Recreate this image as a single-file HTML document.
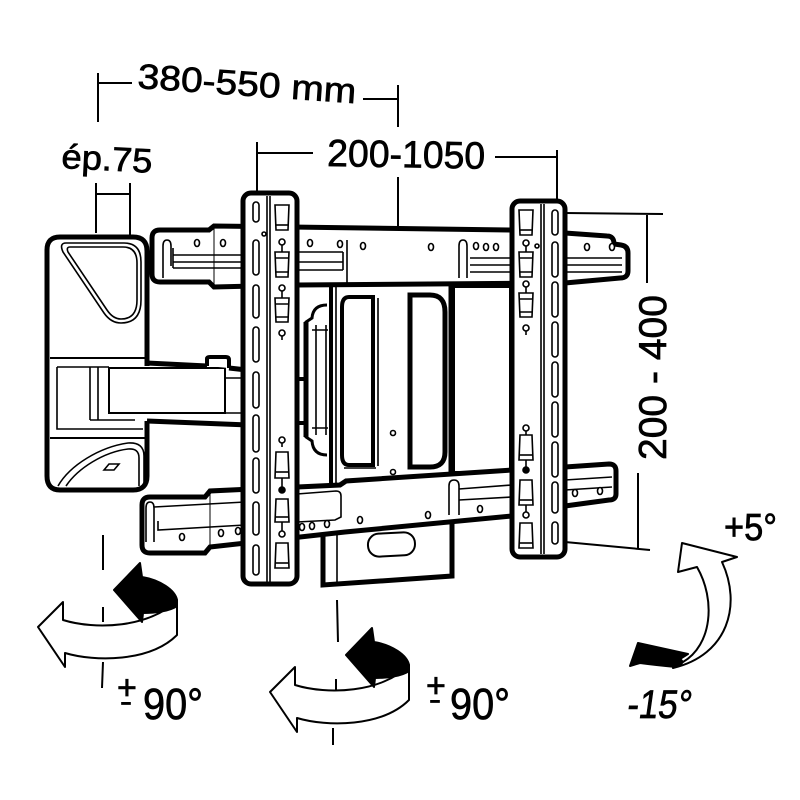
<!DOCTYPE html>
<html><head><meta charset="utf-8"><style>
html,body{margin:0;padding:0;background:#fff;}
svg{display:block;}
text{font-family:"Liberation Sans",sans-serif;fill:#000;stroke:#000;stroke-width:0.7;}
</style></head><body>
<svg width="800" height="800" viewBox="0 0 800 800" xmlns="http://www.w3.org/2000/svg">
<rect width="800" height="800" fill="#fff"/>

<!-- dimension lines -->
<g stroke="#000" stroke-width="2" fill="none">
  <path d="M98,73 V122 M98,83 H132"/>
  <path d="M363,99 H398 M398,85 V127"/>
  <path d="M96,183 V233 M130,183 V272 M96,194 H130"/>
  <path d="M257,142 V205 M257,153 H313"/>
  <path d="M495,157 H557 M557,150 V210"/>
  <path d="M398,177 V265"/>
  <path d="M565,213 L663,214 M647,215 V283"/>
  <path d="M638,473 V548 M565,542 L650,550"/>
</g>

<!-- texts -->
<text x="137" y="88" font-size="35" textLength="219" lengthAdjust="spacingAndGlyphs" transform="rotate(4 137 88)">380-550 mm</text>
<text x="61" y="168" font-size="34" textLength="91" lengthAdjust="spacingAndGlyphs" transform="rotate(3 61 168)">ép.75</text>
<text x="327" y="166" font-size="38" textLength="158" lengthAdjust="spacingAndGlyphs" transform="rotate(1 327 166)">200-1050</text>
<text x="0" y="0" font-size="39" textLength="165" lengthAdjust="spacingAndGlyphs" transform="translate(666 460) rotate(-90)">200 - 400</text>
<text x="117" y="699" font-size="34">+</text>
<text x="120" y="711" font-size="28" textLength="12" lengthAdjust="spacingAndGlyphs">-</text>
<text x="143" y="719" font-size="44" textLength="60" lengthAdjust="spacingAndGlyphs">90°</text>
<text x="426" y="697" font-size="34">+</text>
<text x="429" y="709" font-size="28" textLength="12" lengthAdjust="spacingAndGlyphs">-</text>
<text x="450" y="719" font-size="44" textLength="60" lengthAdjust="spacingAndGlyphs">90°</text>
<text x="724" y="540" font-size="38" textLength="53" lengthAdjust="spacingAndGlyphs">+5°</text>
<text x="0" y="0" font-size="40" textLength="64" lengthAdjust="spacingAndGlyphs" transform="translate(626 718) skewX(-8)">-15°</text>

<!-- wall plate -->
<path d="M60,237 H133 Q147,237 147,251 V476 Q147,490 133,490 H60 Q47,490 47,476 V250 Q47,237 60,237 Z" fill="#fff" stroke="#000" stroke-width="5"/>
<g stroke="#000" fill="none" stroke-width="1.6">
  <path d="M66,243 H124 Q141,243 141,262 V300 Q141,323 121,323 Q111,323 104,313 L63,252 Q59,243 66,243 Z"/>
  <path d="M70,247 H123 Q137,247 137,263 V300 Q137,319 121,319 Q113,319 107,310 L68,252 Q66,247 70,247 Z"/>
  <path d="M58,486 C70,465 100,447 128,443 Q144,442 144,456 V486"/>
  <path d="M66,486 C78,468 104,452 128,449 Q139,448 139,458 V486"/>
  <path d="M104,470 L109,464 H119 L114,470 Z"/>
  <path d="M50,358 H146" stroke-width="2"/>
  <path d="M50,438 H146" stroke-width="2"/>
  <path d="M57,367 V429 H143"/>
  <path d="M90,367 V420 M98,367 V420 M90,420 H135 M57,367 H109"/>
</g>
<!-- arm -->
<rect x="141" y="366" width="104" height="55" fill="#fff"/>
<rect x="109" y="368" width="116" height="45" fill="#fff" stroke="#000" stroke-width="2"/>
<g stroke="#000" fill="none">
  <path d="M147,363 L207,366 M229,368 L300,376" stroke-width="5"/>
  <path d="M207,366 V359 Q207,357 210,357 H226 Q229,357 229,360 V368" stroke-width="4" fill="#fff"/>
  <path d="M147,421 L300,427" stroke-width="5"/>
  <path d="M225,378 H245 M225,413 H245" stroke-width="1.6"/>
</g>

<!-- bottom box -->
<path d="M323,520 V585 L452,576 V515" fill="#fff" stroke="#000" stroke-width="5"/>
<path d="M337,528 V583" stroke="#000" stroke-width="1.6"/>
<rect x="368" y="533" width="47" height="23" rx="11" fill="#fff" stroke="#000" stroke-width="2" transform="rotate(-3 391 545)"/>

<!-- central body -->
<path d="M296,282 H513 V486 L296,489 Z" fill="#fff"/>
<g stroke="#000" fill="none">
  <path d="M296,282 V380 M296,422 V489 L513,484 V282 H296" stroke-width="5"/>
  <path d="M293,379 H307 M293,423 H307" stroke-width="4"/>
  <path d="M331,283 V487" stroke-width="4"/>
  <path d="M336,283 V486" stroke-width="1.6"/>
  <path d="M450,283 V482" stroke-width="3"/>
  <rect x="453" y="286" width="58" height="187" stroke-width="4"/>
  <path d="M349,297 H373 V465 H349 Q342,465 342,455 V307 Q342,297 349,297 Z" stroke-width="4"/>
  <path d="M378,298 V466 M344,468 H376" stroke-width="1.6"/>
  <path d="M410,295 H430 Q445,295 445,312 V452 Q445,467 430,467 H410 Z" stroke-width="5"/>
  <path d="M327,305 Q313,305 312,318 L306,322 V437 L312,441 Q313,455 327,455" stroke-width="3"/>
  <path d="M306,322 V437" stroke-width="5"/>
  <path d="M316,325 V435 M326,325 V435 M312,330 H328 M312,428 H328" stroke-width="1.6"/>
  <circle cx="393" cy="433" r="2.5" stroke-width="1.6"/>
  <circle cx="393" cy="472" r="2.5" stroke-width="1.6"/>
</g>

<!-- top rail -->
<path d="M160,230 H209 L214,226 L510,230 L565,233 L607,236 Q614,236 614,244 L621,245 Q628,246 628,253 V271 Q628,278 620,278 L565,283 L297,285 L214,287 L209,282 H160 Q152,282 152,274 V238 Q152,230 160,230 Z" fill="#fff" stroke="#000" stroke-width="5"/>
<g stroke="#000" fill="none" stroke-width="1.6">
  <path d="M163,278 V246 Q163,240 167,240 Q171,240 171,246 V266"/>
  <path d="M173,248 V268 M173,255 H245 M173,262 H245 M173,268 H245"/>
  <path d="M297,252 H343 M297,262 H343 M297,270 H343 M343,252 V270 M347,240 V283"/>
  <path d="M459,278 V246 Q459,240 463,240 Q467,240 467,246 V278"/>
  <path d="M470,258 H512 M470,265 H512 M470,272 H512"/>
  <path d="M565,258 H622 M565,265 H622 M565,272 H622"/>
  <path d="M214,228 V286" stroke-width="1"/>
</g>
<g fill="#fff" stroke="#000" stroke-width="1.6">
  <ellipse cx="197" cy="243" rx="2.5" ry="3.5"/><ellipse cx="223" cy="243" rx="2.5" ry="3.5"/>
  <ellipse cx="310" cy="243" rx="2.5" ry="3.5"/><ellipse cx="340" cy="244" rx="2.5" ry="3.5"/>
  <ellipse cx="363" cy="246" rx="2.5" ry="3.5"/><ellipse cx="431" cy="247" rx="2.5" ry="3.5"/>
  <ellipse cx="476" cy="246" rx="2.5" ry="3.5"/><ellipse cx="486" cy="247" rx="2.5" ry="3.5"/>
  <ellipse cx="496" cy="247" rx="2.5" ry="3.5"/>
  <ellipse cx="587" cy="247" rx="2.5" ry="3.5"/><ellipse cx="612" cy="247" rx="2.5" ry="3.5"/>
</g>

<!-- bottom rail -->
<path d="M150,497 H205 L210,491 L340,485 L346,481 L512,470 L565,467 L609,464 Q616,464 616,471 V494 Q616,500 609,500 L565,506 L512,516 L345,532 L210,547 L205,553 H150 Q142,553 142,545 V505 Q142,497 150,497 Z" fill="#fff" stroke="#000" stroke-width="5"/>
<g stroke="#000" fill="none" stroke-width="1.6">
  <path d="M146,542 V508 Q146,502 150,502 Q154,502 154,508 V542"/>
  <path d="M154,507 L245,502 M158,521 V530 L245,525"/>
  <path d="M297,494 L336,491 Q341,491 341,496 V517 L335,520 L297,522"/>
  <path d="M449,515 V486 Q449,480 454,480 Q459,480 459,486 V515"/>
  <path d="M459,489 L512,485 M459,500 L512,497"/>
  <path d="M565,480 L612,477 M565,490 L612,487"/>
  <path d="M210,492 V547" stroke-width="1"/>
</g>
<g fill="#fff" stroke="#000" stroke-width="1.6">
  <ellipse cx="182" cy="537" rx="2.5" ry="3.5"/><ellipse cx="221" cy="533" rx="2.5" ry="3.5"/>
  <ellipse cx="238" cy="531" rx="2.5" ry="3.5"/>
  <ellipse cx="302" cy="527" rx="2.5" ry="3.5"/><ellipse cx="312" cy="526" rx="2.5" ry="3.5"/>
  <ellipse cx="327" cy="524" rx="2.5" ry="3.5"/>
  <ellipse cx="360" cy="520" rx="2.5" ry="3.5"/><ellipse cx="428" cy="515" rx="2.5" ry="3.5"/>
  <ellipse cx="480" cy="509" rx="2.5" ry="3.5"/>
  <ellipse cx="575" cy="493" rx="2.5" ry="3.5"/><ellipse cx="600" cy="491" rx="2.5" ry="3.5"/>
</g>

<!-- left strip -->
<rect x="243" y="193" width="54" height="391" rx="8" fill="#fff" stroke="#000" stroke-width="5"/>
<g stroke="#000" fill="none" stroke-width="1.6">
  <path d="M267,196 V582 M270,196 V582"/>
  <rect x="253" y="202" width="6" height="20" rx="3"/>
  <rect x="253" y="240" width="6" height="35" rx="3"/>
  <rect x="253" y="285" width="6" height="33" rx="3"/>
  <rect x="253" y="327" width="6" height="35" rx="3"/>
  <rect x="253" y="372" width="6" height="36" rx="3"/>
  <rect x="253" y="415" width="6" height="37" rx="3"/>
  <rect x="253" y="458" width="6" height="35" rx="3"/>
  <rect x="253" y="502" width="6" height="33" rx="3"/>
  <rect x="253" y="545" width="6" height="30" rx="3"/>
</g>
<!-- right strip -->
<rect x="512" y="201" width="53" height="356" rx="8" fill="#fff" stroke="#000" stroke-width="5"/>
<g stroke="#000" fill="none" stroke-width="1.6">
  <path d="M541,204 V554 M544,204 V554"/>
  <rect x="552" y="210" width="6" height="25" rx="3"/>
  <rect x="552" y="242" width="6" height="35" rx="3"/>
  <rect x="552" y="282" width="6" height="35" rx="3"/>
  <rect x="552" y="322" width="6" height="35" rx="3"/>
  <rect x="552" y="362" width="6" height="35" rx="3"/>
  <rect x="552" y="402" width="6" height="35" rx="3"/>
  <rect x="552" y="442" width="6" height="35" rx="3"/>
  <rect x="552" y="482" width="6" height="31" rx="3"/>
  <rect x="552" y="522" width="6" height="22" rx="3"/>
</g>

<!-- cups & keyholes -->
<g stroke="#000" fill="#fff" stroke-width="1.6">
  <path d="M275,205 H289 L288,230 H276 Z"/><path d="M276,225 H288"/>
  <path d="M275,252 H289 L288,277 H276 Z"/><path d="M276,272 H288 M275,258 H289"/>
  <path d="M275,298 H289 L288,322 H276 Z"/><path d="M276,317 H288 M275,304 H289"/>
  <circle cx="282" cy="242" r="3"/><path d="M282,245 V252"/>
  <circle cx="282" cy="288" r="3"/><path d="M282,291 V298"/>
  <circle cx="282" cy="333" r="3"/><path d="M282,336 V340"/>
  <circle cx="282" cy="440" r="3"/><path d="M282,443 V447"/>
  <path d="M276,452 H288 L289,478 H275 Z"/><path d="M275,472 H289"/>
  <circle cx="282" cy="490" r="3" fill="#000"/><path d="M282,478 V487"/>
  <path d="M276,499 H288 L289,522 H275 Z"/><path d="M275,517 H289"/>
  <circle cx="282" cy="534" r="3"/><path d="M282,522 V531"/>
  <path d="M276,543 H288 L289,568 H275 Z"/><path d="M275,563 H289"/>
  <circle cx="264" cy="234" r="2"/>
  <path d="M519,210 H533 L532,235 H520 Z"/><path d="M520,230 H532"/>
  <path d="M519,252 H533 L532,277 H520 Z"/><path d="M520,272 H532 M519,258 H533"/>
  <path d="M519,293 H533 L532,317 H520 Z"/><path d="M520,312 H532 M519,299 H533"/>
  <circle cx="526" cy="243" r="3"/><path d="M526,246 V252"/>
  <circle cx="526" cy="284" r="3"/><path d="M526,287 V293"/>
  <circle cx="526" cy="328" r="3"/><path d="M526,331 V335"/>
  <circle cx="526" cy="428" r="3"/><path d="M526,431 V435"/>
  <path d="M520,435 H532 L533,460 H519 Z"/><path d="M519,455 H533"/>
  <circle cx="526" cy="470" r="3" fill="#000"/><path d="M526,460 V467"/>
  <path d="M520,480 H532 L533,505 H519 Z"/><path d="M519,500 H533"/>
  <circle cx="526" cy="515" r="3"/><path d="M526,505 V512"/>
  <path d="M520,523 H532 L533,548 H519 Z"/><path d="M519,543 H533"/>
  <circle cx="537" cy="246" r="2"/>
</g>

<!-- rotation arrow 1 -->
<g stroke="#000" stroke-width="2" stroke-linejoin="round">
  <path d="M103,535 V570 M103,607 V622 M103,662 L102,688" fill="none"/>
  <path d="M38,627 L63,602 L63,620 C95,630 150,628 177,600 L177,635 C150,662 95,662 65,653 L65,667 Z" fill="#fff"/>
  <path d="M140,563 L114,590 L142,622 L143,613 C155,613 170,611 177,606 L177,600 C175,590 160,580 142,577 Z" fill="#000"/>
</g>
<!-- rotation arrow 2 -->
<g stroke="#000" stroke-width="2" stroke-linejoin="round">
  <path d="M337,600 L338,642 M336,679 V690 M333,728 V745" fill="none"/>
  <g transform="translate(232 65)">
    <path d="M38,627 L63,602 L63,620 C95,630 150,628 177,600 L177,635 C150,662 95,662 65,653 L65,667 Z" fill="#fff"/>
    <path d="M140,563 L114,590 L142,622 L143,613 C155,613 170,611 177,606 L177,600 C175,590 160,580 142,577 Z" fill="#000"/>
  </g>
</g>
<!-- tilt arrow -->
<g stroke="#000" stroke-width="2" stroke-linejoin="round">
  <path d="M682,543 L737,557 L722,562 C742,605 728,655 673,668 L683,662 C712,645 716,600 697,567 L678,572 Z" fill="#fff"/>
  <path d="M630,666 L638,643 L688,654 L680,659 Q686,663 676,667 Q655,665 640,663 Z" fill="#000"/>
</g>
</svg>
</body></html>
